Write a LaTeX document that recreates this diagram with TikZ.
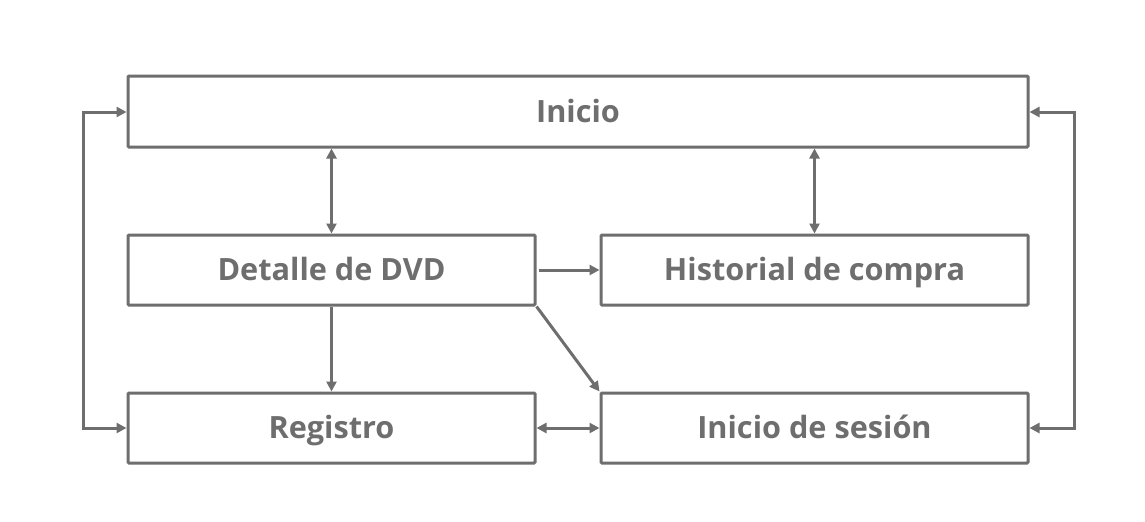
\documentclass[tikz,border=0pt]{standalone}
\usepackage{fontspec}
\setmainfont{Open Sans}
\usetikzlibrary{arrows.meta}
\definecolor{gr}{HTML}{6E6E6E}
\begin{document}
\begin{tikzpicture}[x=0.75pt,y=-0.75pt,
  box/.style={draw=gr,line width=2.25pt,rounded corners=0.8pt,font=\fontsize{23}{27}\selectfont\bfseries,text=gr,inner sep=0pt,text height=16.4pt,text depth=0pt},
  conn/.style={draw=gr,line width=2.25pt,-{Triangle[length=7.5pt,width=7.5pt]}},
  bconn/.style={draw=gr,line width=2.25pt,{Triangle[length=7.5pt,width=7.5pt]}-{Triangle[length=7.5pt,width=7.5pt]}}]
\useasboundingbox[fill=white] (0,0) rectangle (1145,521);
\node[box,minimum width=900*0.75pt,minimum height=71*0.75pt] (ini) at (578,111.5) {Inicio};
\node[box,minimum width=407*0.75pt,minimum height=70*0.75pt] (det) at (331.5,270) {Detalle de DVD};
\node[box,minimum width=427*0.75pt,minimum height=70*0.75pt] (his) at (814.5,270) {Historial de compra};
\node[box,minimum width=407*0.75pt,minimum height=70*0.75pt] (reg) at (331.5,428) {Registro};
\node[box,minimum width=427*0.75pt,minimum height=70*0.75pt] (ses) at (814.5,428) {Inicio de sesión};
\draw[bconn] (ini.south -| det.north) -- (det.north);
\draw[bconn] (ini.south -| his.north) -- (his.north);
\draw[conn] ([xshift=1.5pt]det.east) -- (his.west);
\draw[conn] (det.south) -- (reg.north);
\draw[conn] (det.south east) -- (ses.north west);
\draw[bconn] (reg.east) -- (ses.west);
\coordinate (l1) at (83,428);
\coordinate (l2) at (83,112);
\coordinate (r1) at (1074,428);
\coordinate (r2) at (1074,112);
\draw[bconn] (reg.west) -- (l1) -- (l2) -- (ini.west |- l2);
\draw[bconn] (ses.east) -- (r1) -- (r2) -- (ini.east |- r2);
\end{tikzpicture}
\end{document}
